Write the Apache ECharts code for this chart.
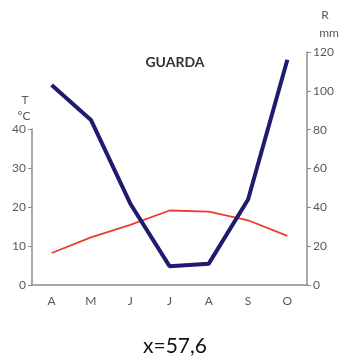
<!DOCTYPE html>
<html><head><meta charset="utf-8">
<script src="https://cdn.jsdelivr.net/npm/echarts@6/dist/echarts.min.js"></script>
<style>html,body{margin:0;padding:0;background:#fff}#c{width:342px;height:360px}</style>
</head><body><div id="c"></div>
<script>
const months = ['A','M','J','J','A','S','O'];
const temperature = [8.2, 12.2, 15.4, 19.1, 18.8, 16.6, 12.6];
const rainfall = [103, 85, 42, 9.7, 11, 44, 116];
const tempTicks = [0, 10, 20, 30, 40];
const rainTicks = [0, 20, 40, 60, 80, 100, 120];

const font = 'Lato';
const axisGray = '#8c8c8c';
const labelGray = '#595959';

const chart = echarts.init(document.getElementById('c'));
chart.setOption({
  animation: false,
  textStyle: {fontFamily: font},
  title: [
    {text: 'GUARDA', left: 170, top: 50, textAlign: 'center',
     textStyle: {fontFamily: font, fontSize: 14, fontWeight: 'bold', color: '#333'}},
    {text: 'T', left: 20, top: 89, textAlign: 'center',
     textStyle: {fontFamily: font, fontSize: 12, fontWeight: 'normal', color: labelGray}},
    {text: 'ºC', left: 19, top: 105, textAlign: 'center',
     textStyle: {fontFamily: font, fontSize: 12, fontWeight: 'normal', color: labelGray}},
    {text: 'R', left: 320, top: 4, textAlign: 'center',
     textStyle: {fontFamily: font, fontSize: 12, fontWeight: 'normal', color: labelGray}},
    {text: 'mm', left: 324, top: 22, textAlign: 'center',
     textStyle: {fontFamily: font, fontSize: 12, fontWeight: 'normal', color: labelGray}},
    {text: 'x=57,6', left: 170, top: 331, textAlign: 'center',
     textStyle: {fontFamily: font, fontSize: 21, fontWeight: 'normal', color: '#111'}}
  ],
  grid: [
    {left: 32, right: 35, top: 52, bottom: 75},
    {left: 32, right: 35, top: 129, bottom: 75}
  ],
  xAxis: [
    {type: 'category', gridIndex: 0, data: months, boundaryGap: true,
     axisLine: {lineStyle: {color: axisGray, width: 1.5}},
     axisTick: {alignWithLabel: true, length: 4, lineStyle: {color: axisGray}},
     axisLabel: {color: labelGray, fontSize: 12, margin: 10}},
    {type: 'category', gridIndex: 1, data: months, boundaryGap: true, show: false}
  ],
  yAxis: [
    {type: 'value', gridIndex: 0, position: 'right', min: rainTicks[0], max: rainTicks[rainTicks.length-1], interval: 20,
     splitLine: {show: false},
     axisLine: {show: true, lineStyle: {color: axisGray, width: 1.5}},
     axisTick: {show: true, length: 4, lineStyle: {color: axisGray}},
     axisLabel: {color: labelGray, fontSize: 12, margin: 6}},
    {type: 'value', gridIndex: 1, position: 'left', min: tempTicks[0], max: tempTicks[tempTicks.length-1], interval: 10,
     splitLine: {show: false},
     axisLine: {show: true, lineStyle: {color: axisGray, width: 1.5}},
     axisTick: {show: true, length: 4, lineStyle: {color: axisGray}},
     axisLabel: {color: labelGray, fontSize: 12, margin: 6}}
  ],
  series: [
    {type: 'line', name: 'T', xAxisIndex: 1, yAxisIndex: 1, data: temperature,
     symbol: 'none', lineStyle: {color: '#ee3a30', width: 1.8}, z: 2},
    {type: 'line', name: 'R', xAxisIndex: 0, yAxisIndex: 0, data: rainfall,
     symbol: 'none', lineStyle: {color: '#1f1b6e', width: 4}, z: 3}
  ]
});
</script></body></html>
